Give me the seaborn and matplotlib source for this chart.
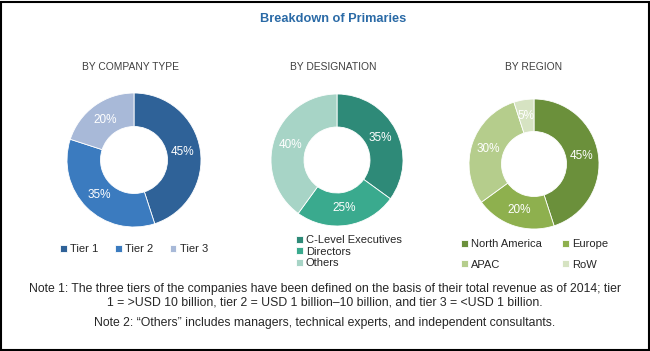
import matplotlib
matplotlib.use("Agg")
import matplotlib.pyplot as plt
import seaborn as sns
from matplotlib.patches import Rectangle

sns.set_theme(style="white")
plt.rcParams["font.family"] = ["Liberation Sans", "DejaVu Sans"]

title = "Breakdown of Primaries"
subtitles = ["BY COMPANY TYPE", "BY DESIGNATION", "BY REGION"]

company_labels = ["Tier 1", "Tier 2", "Tier 3"]
company_values = [45, 35, 20]
company_colors = ["#2f6298", "#3b7bbf", "#a8b9d8"]

designation_labels = ["C-Level Executives", "Directors", "Others"]
designation_values = [35, 25, 40]
designation_colors = ["#2e8a78", "#3aaa8e", "#a7d4c6"]

region_labels = ["North America", "Europe", "APAC", "RoW"]
region_values = [45, 20, 30, 5]
region_colors = ["#6b903b", "#8eb04e", "#b5cd8c", "#d6e3c2"]

note1 = ("Note 1: The three tiers of the companies have been defined on the basis of their total revenue as of 2014; tier\n"
         "1 = >USD 10 billion, tier 2 = USD 1 billion\u201310 billion, and tier 3 = <USD 1 billion.")
note2 = "Note 2: \u201cOthers\u201d includes managers, technical experts, and independent consultants."

W, H = 650, 351
fig = plt.figure(figsize=(W / 100, H / 100), dpi=100)
fig.patch.set_facecolor("white")


def donut(cx, cy, r, values, colors):
    ax = fig.add_axes([(cx - r) / W, (H - cy - r) / H, 2 * r / W, 2 * r / H])
    wedges, texts, autotexts = ax.pie(
        values, colors=colors, startangle=90, counterclock=False,
        radius=1, wedgeprops=dict(width=0.5, edgecolor="white", linewidth=0.6),
        autopct="%d%%", pctdistance=0.74,
        textprops=dict(color="white", fontsize=8.5))
    ax.set_xlim(-1, 1)
    ax.set_ylim(-1, 1)
    ax.set_aspect("equal")
    ax.axis("off")
    return ax, wedges


ax1, w1 = donut(134, 160, 67, company_values, company_colors)
ax2, w2 = donut(337, 160, 66, designation_values, designation_colors)
ax3, w3 = donut(534, 164, 65, region_values, region_colors)

fig.text(333 / W, 1 - 19 / H, title, ha="center", va="center", fontsize=9.2,
         fontweight="bold", color="#2a6aa6")
for x, s in zip([131, 333, 534], subtitles):
    fig.text(x / W, 1 - 67 / H, s, ha="center", va="center", fontsize=7.4, color="#404040")

leg_kw = dict(frameon=False, fontsize=8, handlelength=0.6, handleheight=0.6,
              handletextpad=0.3, borderaxespad=0, borderpad=0)
fig.legend(w1, company_labels, loc="center", bbox_to_anchor=(134 / W, 1 - 249 / H),
           ncol=3, columnspacing=1.5, **leg_kw)
fig.legend(w2, designation_labels, loc="upper left", bbox_to_anchor=(296 / W, 1 - 235 / H),
           ncol=1, labelspacing=0.15, **leg_kw)
fig.legend([w3[0], w3[2], w3[1], w3[3]],
           [region_labels[0], region_labels[2], region_labels[1], region_labels[3]],
           loc="upper left", bbox_to_anchor=(461 / W, 1 - 239 / H),
           ncol=2, labelspacing=0.95, columnspacing=1.8, **leg_kw)

fig.text(325 / W, 1 - 296 / H, note1, ha="center", va="center", fontsize=8.85,
         color="#262626", linespacing=1.2)
fig.text(325 / W, 1 - 323 / H, note2, ha="center", va="center", fontsize=8.85, color="#262626")

fig.add_artist(Rectangle((1 / W, 1 / H), (W - 2.5) / W, (H - 2.5) / H, transform=fig.transFigure,
                         fill=False, edgecolor="black", linewidth=1.5))

fig.savefig("out.png", dpi=100)
